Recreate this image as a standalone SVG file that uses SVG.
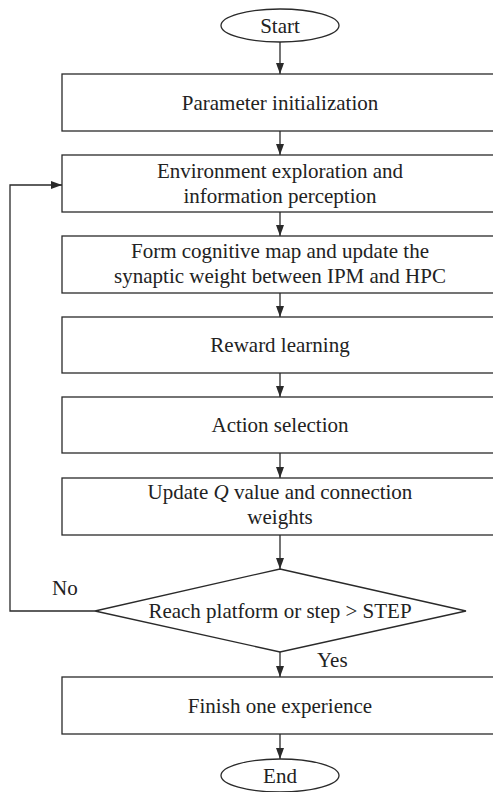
<svg xmlns="http://www.w3.org/2000/svg" width="493" height="792" viewBox="0 0 493 792">
<defs>
<marker id="ah" markerWidth="11" markerHeight="8" refX="11" refY="4" orient="auto" markerUnits="userSpaceOnUse">
<path d="M0,0 L11,4 L0,8 Z" fill="#2a2a2a"/>
</marker>
<style>
.s{fill:#fff;stroke:#2a2a2a;stroke-width:1.3}
.t{font-family:"Times New Roman","Liberation Serif",Tinos,"DejaVu Serif",serif;font-size:21px;fill:#222;text-anchor:middle}
.l{font-family:"Times New Roman","Liberation Serif",Tinos,"DejaVu Serif",serif;font-size:21px;fill:#222}
.c{fill:none;stroke:#2a2a2a;stroke-width:1.3;marker-end:url(#ah)}
</style>
</defs>
<rect width="493" height="792" fill="#fff"/>
<g id="connectors">
<line class="c" x1="280" y1="42" x2="280" y2="74"/>
<line class="c" x1="280" y1="131" x2="280" y2="155"/>
<line class="c" x1="280" y1="212" x2="280" y2="236"/>
<line class="c" x1="280" y1="293" x2="280" y2="317"/>
<line class="c" x1="280" y1="373" x2="280" y2="397"/>
<line class="c" x1="280" y1="453" x2="280" y2="478"/>
<line class="c" x1="280" y1="535" x2="280" y2="569"/>
<line class="c" x1="280" y1="652" x2="280" y2="677"/>
<line class="c" x1="280" y1="734" x2="280" y2="759"/>
<polyline class="c" points="95,611 10,611 10,185 62,185"/>
<text class="l" x="52" y="595">No</text>
<text class="l" x="317" y="667">Yes</text>
</g>
<g id="start">
<ellipse class="s" cx="280" cy="25.5" rx="59" ry="16.5"/>
<text class="t" x="280" y="33">Start</text>
</g>
<g id="init">
<rect class="s" x="62" y="74" width="436" height="57"/>
<text class="t" x="280" y="110">Parameter initialization</text>
</g>
<g id="explore">
<rect class="s" x="62" y="155" width="436" height="57"/>
<text class="t" x="280" y="178">Environment exploration and</text>
<text class="t" x="280" y="203">information perception</text>
</g>
<g id="cogmap">
<rect class="s" x="62" y="236" width="436" height="57"/>
<text class="t" x="280" y="258">Form cognitive map and update the</text>
<text class="t" x="280" y="283">synaptic weight between IPM and HPC</text>
</g>
<g id="reward">
<rect class="s" x="62" y="317" width="436" height="56"/>
<text class="t" x="280" y="352">Reward learning</text>
</g>
<g id="action">
<rect class="s" x="62" y="397" width="436" height="56"/>
<text class="t" x="280" y="432">Action selection</text>
</g>
<g id="update">
<rect class="s" x="62" y="478" width="436" height="57"/>
<text class="t" x="280" y="499">Update <tspan font-style="italic">Q</tspan> value and connection</text>
<text class="t" x="280" y="524">weights</text>
</g>
<g id="decision">
<polygon class="s" points="280,569 466,611 280,652 95,611"/>
<text class="t" x="280" y="618">Reach platform or step &gt; STEP</text>
</g>
<g id="finish">
<rect class="s" x="62" y="677" width="436" height="57"/>
<text class="t" x="280" y="713">Finish one experience</text>
</g>
<g id="end">
<ellipse class="s" cx="280" cy="775.5" rx="59" ry="16.5"/>
<text class="t" x="280" y="783">End</text>
</g>
</svg>
